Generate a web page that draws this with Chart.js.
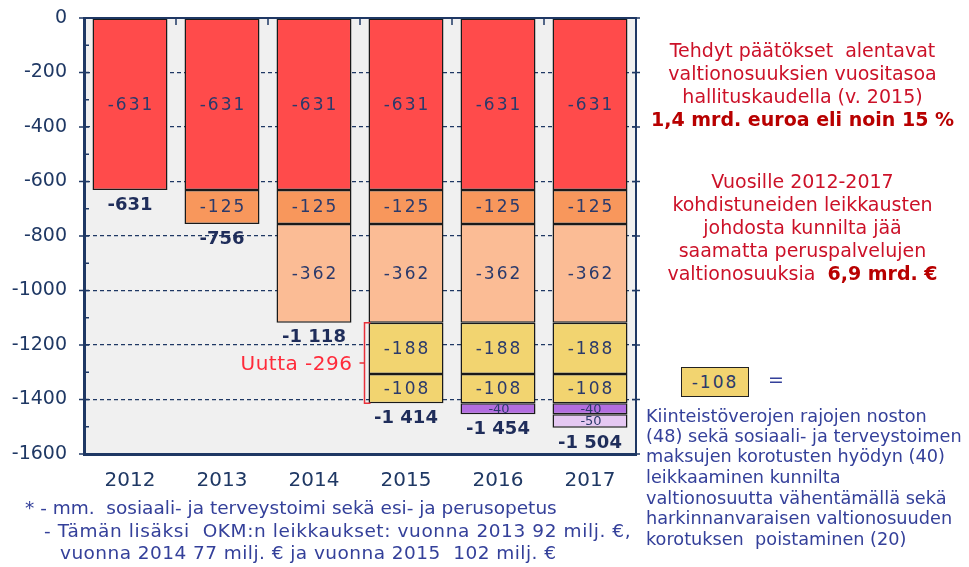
<!DOCTYPE html>
<html lang="fi">
<head>
<meta charset="utf-8">
<title>Valtionosuusleikkaukset 2012-2017</title>
<script src="https://cdn.jsdelivr.net/npm/chart.js@4.4.1/dist/chart.umd.min.js"></script>
<style>
  html, body { margin: 0; padding: 0; background: #fff; }
  #wrap { position: relative; width: 969px; height: 567px; overflow: hidden; font-family: "DejaVu Sans", Verdana, sans-serif; }
  #chart { position: absolute; left: 0; top: 0; }
  .line { position: absolute; white-space: nowrap; }
  .red { color: #cc1128; font-size: 19px; left: 640px; width: 325px; text-align: center; }
  .red b { color: #b80000; }
  .blue { color: #34409a; font-size: 17.7px; }
  .foot { color: #34409a; font-size: 18.5px; }
  #box { position: absolute; left: 681px; top: 367px; width: 66px; height: 28px; background: #f2d470;
         border: 1.5px solid #222; color: #2b3a6b; font-size: 17px; letter-spacing: 2px;
         text-align: center; line-height: 28px; }
</style>
</head>
<body>
<div id="wrap">
  <canvas id="chart" width="969" height="567"></canvas>

  <!-- right side comments -->
  <div class="line red" style="top:39px">Tehdyt päätökset&nbsp; alentavat</div>
  <div class="line red" style="top:62px">valtionosuuksien vuositasoa</div>
  <div class="line red" style="top:85px">hallituskaudella (v. 2015)</div>
  <div class="line red" style="top:108px"><b>1,4 mrd. euroa eli noin 15 %</b></div>

  <div class="line red" style="top:170px">Vuosille 2012-2017</div>
  <div class="line red" style="top:193px">kohdistuneiden leikkausten</div>
  <div class="line red" style="top:216px">johdosta kunnilta jää</div>
  <div class="line red" style="top:239px">saamatta peruspalvelujen</div>
  <div class="line red" style="top:262px">valtionosuuksia&nbsp; <b>6,9 mrd. €</b></div>

  <div id="box">-108</div>
  <div class="line blue" style="left:768px;top:368px;font-size:19px">=</div>
  <div class="line blue" style="left:646px;top:406px">Kiinteistöverojen rajojen noston</div>
  <div class="line blue" style="left:646px;top:426px">(48) sekä sosiaali- ja terveystoimen</div>
  <div class="line blue" style="left:646px;top:446px">maksujen korotusten hyödyn (40)</div>
  <div class="line blue" style="left:646px;top:467px">leikkaaminen kunnilta</div>
  <div class="line blue" style="left:646px;top:488px">valtionosuutta vähentämällä sekä</div>
  <div class="line blue" style="left:646px;top:508px">harkinnanvaraisen valtionosuuden</div>
  <div class="line blue" style="left:646px;top:529px">korotuksen&nbsp; poistaminen (20)</div>

  <!-- footnotes -->
  <div class="line foot" style="left:25px;top:497px">* - mm.&nbsp; sosiaali- ja terveystoimi sekä esi- ja perusopetus</div>
  <div class="line foot" style="left:44px;top:520px;letter-spacing:0.6px">- Tämän lisäksi&nbsp; OKM:n leikkaukset: vuonna 2013 92 milj. €,</div>
  <div class="line foot" style="left:60px;top:542px;letter-spacing:0.45px">vuonna 2014 77 milj. € ja vuonna 2015&nbsp; 102 milj. €</div>
</div>

<script>
// Years on the x axis
const years = ["2012", "2013", "2014", "2015", "2016", "2017"];

// Cuts (milj. €) stacked from the top down, one array per decision
const cutsUpTo2012 = [-631, -631, -631, -631, -631, -631];
const cuts2013 = [null, -125, -125, -125, -125, -125];
const cuts2014 = [null, null, -362, -362, -362, -362];
const cuts2015 = [null, null, null, -188, -188, -188];
const cuts2015Other = [null, null, null, -108, -108, -108];
const cuts2016 = [null, null, null, null, -40, -40];
const cuts2017 = [null, null, null, null, null, -50];

// Y axis range and step
const yMin = -1600;
const yMax = 0;
const yStep = 200;

const navy = "#1f3864";
const labelColor = "#2b3a6b";

// Formats -1118 as "-1 118".
function fmt(n) {
  const s = String(Math.abs(n)).replace(/\B(?=(\d{3})+(?!\d))/g, " ");
  return (n < 0 ? "-" : "") + s;
}

// Grey plot background.
const plotBackground = {
  id: "plotBackground",
  beforeDraw(chart) {
    const a = chart.chartArea;
    const ctx = chart.ctx;
    ctx.save();
    ctx.fillStyle = "#f0f0f0";
    ctx.fillRect(a.left, a.top, a.right - a.left, a.bottom - a.top);
    ctx.restore();
  }
};

// Top/right frame and the small tick marks.
const frame = {
  id: "frame",
  afterDatasetsDraw(chart) {
    const a = chart.chartArea;
    const ctx = chart.ctx;
    const y = chart.scales.y;
    const x = chart.scales.x;
    ctx.save();
    ctx.strokeStyle = navy;
    ctx.lineWidth = 2;
    ctx.beginPath();
    ctx.moveTo(a.left, a.top);
    ctx.lineTo(a.right, a.top);
    ctx.lineTo(a.right, a.bottom);
    ctx.stroke();
    ctx.lineWidth = 1.5;
    ctx.beginPath();
    for (let v = yMax; v >= yMin; v -= yStep / 2) {
      const py = y.getPixelForValue(v);
      if (v % yStep === 0) {
        ctx.moveTo(a.left - 5, py);
        ctx.lineTo(a.left + 5, py);
        ctx.moveTo(a.right - 4, py);
        ctx.lineTo(a.right + 4, py);
      } else {
        ctx.moveTo(a.left, py);
        ctx.lineTo(a.left + 5, py);
      }
    }
    const step = (x.right - x.left) / years.length;
    for (let i = 1; i < years.length; i++) {
      const px = x.left + step * i;
      ctx.moveTo(px, a.top);
      ctx.lineTo(px, a.top + 7);
    }
    ctx.stroke();
    ctx.restore();
  }
};

// Value labels inside segments, totals under bars, and the "Uutta" bracket.
const valueLabels = {
  id: "valueLabels",
  afterDatasetsDraw(chart) {
    const ctx = chart.ctx;
    const yScale = chart.scales.y;
    ctx.save();
    ctx.textAlign = "center";
    ctx.textBaseline = "middle";
    chart.data.datasets.forEach((ds, di) => {
      const meta = chart.getDatasetMeta(di);
      meta.data.forEach((bar, i) => {
        const v = ds.data[i];
        if (v == null) return;
        const p = bar.getProps(["x", "y", "base"], true);
        const h = Math.abs(p.y - p.base);
        ctx.fillStyle = labelColor;
        ctx.font = (h < 20 ? "13px" : "17px") + ' "DejaVu Sans"';
        ctx.letterSpacing = h < 20 ? "0px" : "2px";
        ctx.fillText(String(v), p.x + 1, (p.y + p.base) / 2 + 1);
      });
    });

    // totals
    ctx.letterSpacing = "0px";
    ctx.font = 'bold 18px "DejaVu Sans"';
    ctx.fillStyle = "#1f2d5a";
    const totals = years.map((_, i) =>
      chart.data.datasets.reduce((s, ds) => s + (ds.data[i] || 0), 0));
    totals.forEach((t, i) => {
      const px = chart.scales.x.getPixelForValue(i);
      ctx.fillText(fmt(t), px, yScale.getPixelForValue(t) + 15);
    });

    // bracket for the new 2015 cuts
    const bar2015 = chart.getDatasetMeta(3).data[3];
    const w = bar2015.getProps(["width"], true).width;
    const bx = bar2015.x - w / 2 - 4;
    const top = yScale.getPixelForValue(totals[2]);
    const bottom = yScale.getPixelForValue(totals[3]);
    const mid = (top + bottom) / 2;
    ctx.strokeStyle = "#e8303a";
    ctx.lineWidth = 1.5;
    ctx.beginPath();
    ctx.moveTo(bx + 6, top);
    ctx.lineTo(bx, top);
    ctx.lineTo(bx, bottom);
    ctx.lineTo(bx + 6, bottom);
    ctx.moveTo(bx, mid);
    ctx.lineTo(bx - 5, mid);
    ctx.stroke();
    ctx.fillStyle = "#ff2a3a";
    ctx.font = '20px "DejaVu Sans"';
    ctx.letterSpacing = "0.5px";
    ctx.textAlign = "right";
    ctx.fillText("Uutta " + (cuts2015[3] + cuts2015Other[3]), bx - 12, mid + 2);
    ctx.restore();
  }
};

const barStyle = {
  borderColor: "#1a1a1a",
  borderWidth: 1.5,
  borderSkipped: false,
  barPercentage: 0.815,
  categoryPercentage: 1
};

new Chart(document.getElementById("chart"), {
  type: "bar",
  data: {
    labels: years,
    datasets: [
      { data: cutsUpTo2012, backgroundColor: "#ff4b4b", ...barStyle },
      { data: cuts2013, backgroundColor: "#f8975c", ...barStyle },
      { data: cuts2014, backgroundColor: "#fbbc95", ...barStyle },
      { data: cuts2015, backgroundColor: "#f2d470", ...barStyle },
      { data: cuts2015Other, backgroundColor: "#f2d470", ...barStyle },
      { data: cuts2016, backgroundColor: "#b36de0", ...barStyle },
      { data: cuts2017, backgroundColor: "#e5c8f2", ...barStyle }
    ]
  },
  options: {
    responsive: false,
    animation: false,
    devicePixelRatio: 1,
    layout: { padding: { top: 18, right: 333, left: 0, bottom: 0 } },
    plugins: { legend: { display: false }, tooltip: { enabled: false } },
    scales: {
      x: {
        stacked: true,
        grid: { display: false },
        border: { display: true, color: navy, width: 3 },
        ticks: { color: navy, font: { family: "DejaVu Sans", size: 20 }, padding: 7 },
        afterFit(scale) { scale.height = 113; }
      },
      y: {
        stacked: true,
        min: yMin,
        max: yMax,
        grid: { color: navy, lineWidth: 1.2, drawTicks: false },
        border: { display: true, color: navy, width: 3, dash: [4, 3] },
        ticks: {
          stepSize: yStep,
          color: navy,
          padding: 17,
          font: { family: "DejaVu Sans", size: 19 },
          callback: (v) => String(v)
        },
        afterFit(scale) {
          scale.width = 84;
          // the tick padding should not push the plot down
          scale.paddingTop = 0;
          scale.paddingBottom = 0;
        }
      }
    }
  },
  plugins: [plotBackground, valueLabels, frame]
});
</script>
</body>
</html>
